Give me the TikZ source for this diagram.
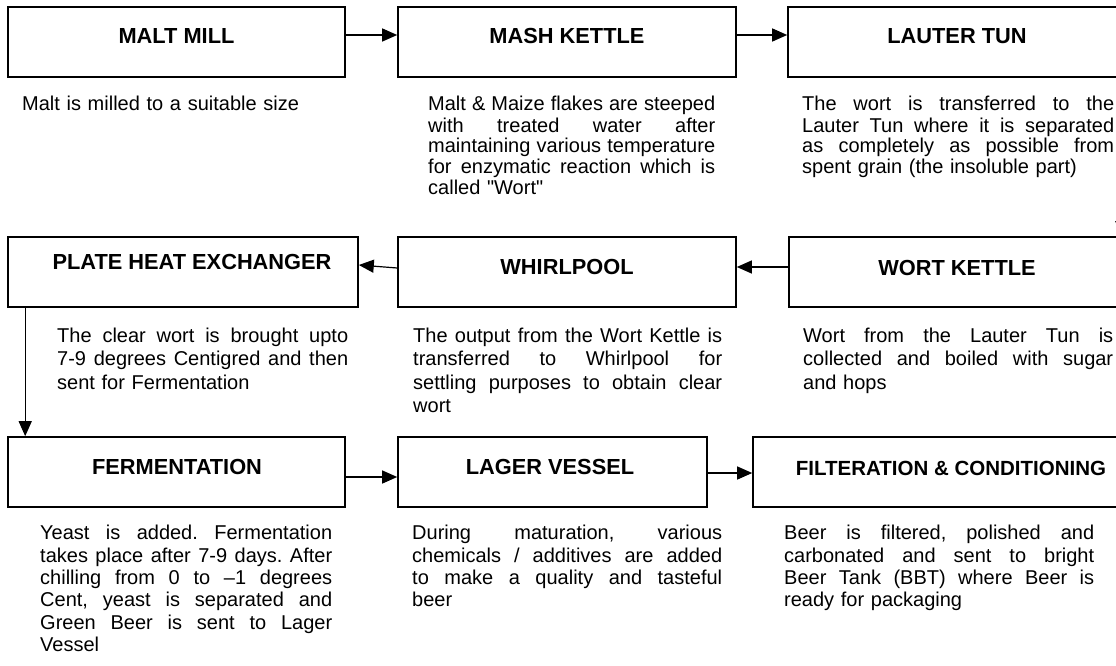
\documentclass[tikz,border=0pt]{standalone}
\usepackage{fontspec}
\setmainfont{Liberation Sans}
\usetikzlibrary{arrows.meta}
\newcommand{\jl}[2]{\leavevmode\hbox to #1pt{\spaceskip=0.278em plus 1fil\relax\xspaceskip=\spaceskip #2}}
\begin{document}
\frenchspacing
\begin{tikzpicture}[x=1pt,y=-1pt,
  box/.style={draw, line width=1.6pt, inner sep=0pt, minimum height=70pt},
  title/.style={font=\fontsize{21.8}{25}\selectfont\bfseries, inner sep=0pt},
  desc/.style={inner sep=0pt, anchor=north west, align=left},
  rowa/.style={desc, font=\fontsize{20}{20.6}\selectfont\frenchspacing},
  rowb/.style={desc, font=\fontsize{20}{23.3}\selectfont\frenchspacing},
  rowc/.style={desc, font=\fontsize{20}{22.3}\selectfont\frenchspacing},
  arr/.style={line width=1.2pt, -{Triangle[length=15pt,width=13pt]}}]
\useasboundingbox (0,0) rectangle (1116,666);

% boxes
\node[box, minimum width=337pt] (mill)   at (176.5,42) {};
\node[box, minimum width=338pt] (mash)   at (567,42) {};
\node[box, minimum width=338pt] (lauter) at (957,42) {};
\node[box, minimum width=350pt] (phe)    at (183,272) {};
\node[box, minimum width=338pt] (whirl)  at (567,272) {};
\node[box, minimum width=337pt] (wort)   at (957.5,272) {};
\node[box, minimum width=337pt] (ferm)   at (176.5,472) {};
\node[box, minimum width=309pt] (lager)  at (552.5,472) {};
\node[box, minimum width=397pt] (filt)   at (951.5,472) {};

% titles
\node[title] (tmill)   at (176.5,36) {MALT MILL};
\node[title] (tmash)   at (567,36) {MASH KETTLE};
\node[title] (tlauter) at (957,36) {LAUTER TUN};
\node[title] (tphe)    at (192,262) {PLATE HEAT EXCHANGER};
\node[title] (twhirl)  at (567,267) {WHIRLPOOL};
\node[title] (twort)   at (957,268) {WORT KETTLE};
\node[title] (tferm)   at (177,467) {FERMENTATION};
\node[title] (tlager)  at (550,467) {LAGER VESSEL};
\node[title, font=\fontsize{20.5}{24}\selectfont\bfseries] (tfilt) at (951,468) {FILTERATION \& CONDITIONING};

% descriptions
\node[rowa, text width=300pt] (dmill) at (22,96) {\strut Malt is milled to a suitable size};
\node[rowa, text width=287pt] (dmash) at (428,96) {\strut\jl{287}{Malt \& Maize flakes are steeped}\\
  \jl{287}{with treated water after}\\
  \jl{287}{maintaining various temperature}\\
  \jl{287}{for enzymatic reaction which is}\\
  called \textquotedbl Wort\textquotedbl};
\node[rowa, text width=312pt] (dlauter) at (802,96) {\strut\jl{312}{The wort is transferred to the}\\
  \jl{312}{Lauter Tun where it is separated}\\
  \jl{312}{as completely as possible from}\\
  spent grain (the insoluble part)};
\node[rowb, text width=291pt] (dphe) at (57,326) {\strut\jl{291}{The clear wort is brought upto}\\
  \jl{291}{7-9 degrees Centigred and then}\\
  sent for Fermentation};
\node[rowb, text width=309pt] (dwhirl) at (413,326) {\strut\jl{309}{The output from the Wort Kettle is}\\
  \jl{309}{transferred to Whirlpool for}\\
  \jl{309}{settling purposes to obtain clear}\\
  wort};
\node[rowb, text width=310pt] (dwort) at (803,326) {\strut\jl{310}{Wort from the Lauter Tun is}\\
  \jl{310}{collected and boiled with sugar}\\
  and hops};
\node[rowc, text width=292pt] (dferm) at (40,524) {\strut\jl{292}{Yeast is added. Fermentation}\\
  \jl{292}{takes place after 7-9 days. After}\\
  \jl{292}{chilling from 0 to –1 degrees}\\
  \jl{292}{Cent, yeast is separated and}\\
  \jl{292}{Green Beer is sent to Lager}\\
  Vessel};
\node[rowc, text width=310pt] (dlager) at (412,524) {\strut\jl{310}{During maturation, various}\\
  \jl{310}{chemicals / additives are added}\\
  \jl{310}{to make a quality and tasteful}\\
  beer};
\node[rowc, text width=310pt] (dfilt) at (784,524) {\strut\jl{310}{Beer is filtered, polished and}\\
  \jl{310}{carbonated and sent to bright}\\
  \jl{310}{Beer Tank (BBT) where Beer is}\\
  ready for packaging};

% connectors
\draw[arr] ([yshift=7pt]mill.east) -- ([yshift=7pt]mash.west);
\draw[arr] ([yshift=7pt]mash.east) -- ([yshift=7pt]lauter.west);
\draw[arr] ([xshift=-5pt]lauter.south east) -- ([xshift=-5pt]wort.north east);
\draw[arr] ([yshift=5pt]wort.west) -- ([yshift=5pt]whirl.east);
\draw[arr] ([yshift=4pt]whirl.west) -- ([yshift=7pt]phe.east);
\draw[arr] ([xshift=18pt]phe.south west) -- ([xshift=18pt]ferm.north west);
\draw[arr] ([yshift=-5pt]ferm.east) -- ([yshift=-5pt]lager.west);
\draw[arr] ([yshift=-1pt]lager.east) -- ([yshift=-1pt]filt.west);
\end{tikzpicture}
\end{document}
